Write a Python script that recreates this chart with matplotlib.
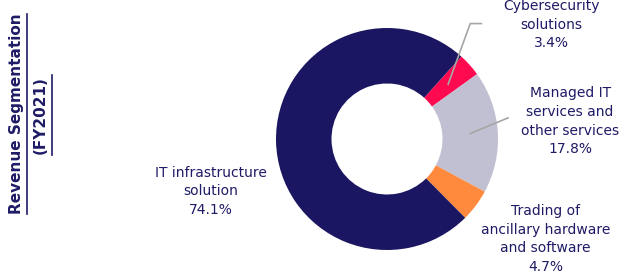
import numpy as np
import matplotlib
matplotlib.use("Agg")
import matplotlib.pyplot as plt

categories = ["Cybersecurity\nsolutions", "Managed IT\nservices and\nother services",
              "Trading of\nancillary hardware\nand software", "IT infrastructure\nsolution"]
values = [3.4, 17.8, 4.7, 74.1]
colors = ["#FF0A50", "#C1C0D3", "#FF8A3D", "#1B1661"]
navy = "#1F1B66"

W, H = 621, 273
fig = plt.figure(figsize=(W / 100, H / 100), dpi=100)
cx, cy, r = 387, 139, 111
ax = fig.add_axes([(cx - r) / W, (H - cy - r) / H, 2 * r / W, 2 * r / H])
wedges, _ = ax.pie(values, colors=colors, startangle=48, counterclock=False,
                   radius=1.0, wedgeprops=dict(width=0.5, edgecolor="none"))
ax.set_xlim(-1, 1)
ax.set_ylim(-1, 1)
ax.set_aspect("equal")
ax.axis("off")

font = "DejaVu Sans"
fs = 10
# label positions (data coords relative to pie) and leader lines
label_pos = [(1.48, 1.03), (1.65, 0.16), (1.43, -0.90), (-1.59, -0.47)]
for i, (cat, val) in enumerate(zip(categories, values)):
    x, y = label_pos[i]
    ax.text(x, y, f"{cat}\n{val:.1f}%", ha="center", va="center", fontsize=fs,
            color=navy, family=font, linespacing=1.42, clip_on=False)

def mid(w):
    return np.deg2rad((w.theta1 + w.theta2) / 2)

gray = "#A6A6A6"
a = mid(wedges[0])
p0 = (0.74 * np.cos(a), 0.74 * np.sin(a))
ax.plot([p0[0], 0.75, 0.85], [p0[1], 1.04, 1.04], color=gray, lw=1.2, clip_on=False)
a = mid(wedges[1])
p0 = (0.75 * np.cos(a), 0.75 * np.sin(a))
ax.plot([p0[0], 1.09], [p0[1], 0.19], color=gray, lw=1.2, clip_on=False)

# vertical title
fig.text(17 / W, 1 - 114 / H, "Revenue Segmentation", rotation=90, ha="center", va="center",
         fontsize=11, fontweight="bold", color=navy, family=font)
fig.text(40 / W, 1 - 115 / H, "(FY2021)", rotation=90, ha="center", va="center",
         fontsize=11, fontweight="bold", color=navy, family=font)
fig.add_artist(plt.Line2D([27 / W, 27 / W], [1 - 14 / H, 1 - 214 / H], color=navy, lw=1.2))
fig.add_artist(plt.Line2D([52 / W, 52 / W], [1 - 75 / H, 1 - 155 / H], color=navy, lw=1.2))

fig.savefig("out.png", dpi=100)
